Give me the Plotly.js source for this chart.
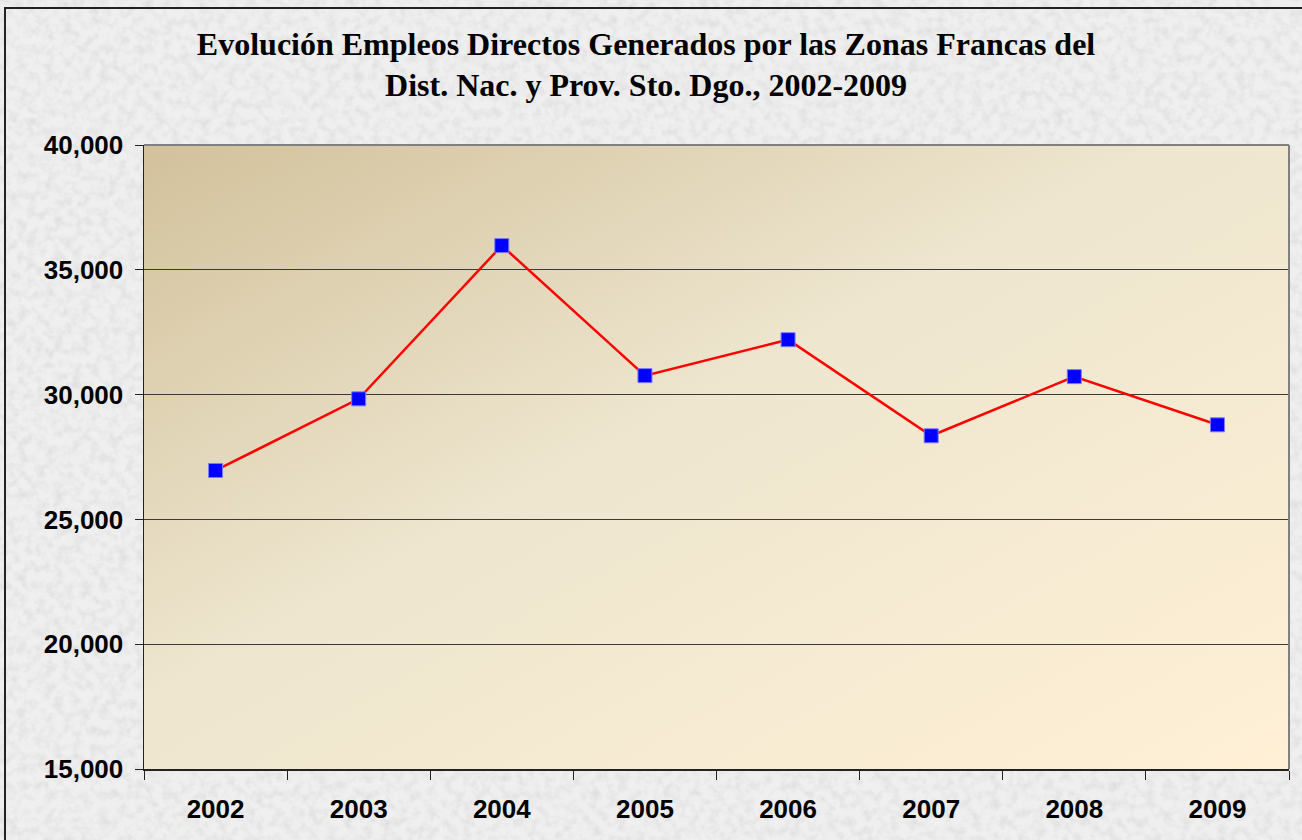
<!DOCTYPE html>
<html>
<head>
<meta charset="utf-8">
<script src="https://cdn.plot.ly/plotly-3.0.1.min.js"></script>
<style>
  html, body { margin: 0; padding: 0; width: 1302px; height: 840px; overflow: hidden; }
  body { background-color: #e9e9e9; position: relative; }
  #bg { position: absolute; left: 0; top: 0; width: 1302px; height: 840px; }
  #frame { position: absolute; left: 4px; top: 7px; width: 1400px; height: 1000px; border: 2px solid #222; box-sizing: border-box; pointer-events: none; }
  #chart { position: absolute; left: 0; top: 0; width: 1302px; height: 840px; }
</style>
</head>
<body>
<div id="bg"></div>
<div id="chart"></div>
<div id="frame"></div>
<script>
// ---- data ----
const years = ['2002', '2003', '2004', '2005', '2006', '2007', '2008', '2009'];
const empleos = [26960, 29830, 35970, 30760, 32200, 28350, 30720, 28790];
const yTickVals = [15000, 20000, 25000, 30000, 35000, 40000];
const chartTitle = 'Evolución Empleos Directos Generados por las Zonas Francas del<br>Dist. Nac. y Prov. Sto. Dgo., 2002-2009';

// stone-like background texture (deterministic SVG filter)
const tex = "<svg xmlns='http://www.w3.org/2000/svg' width='1302' height='840'>" +
  "<filter id='n' x='0' y='0' width='100%' height='100%'>" +
  "<feTurbulence type='fractalNoise' baseFrequency='0.11' numOctaves='4' seed='7'/>" +
  "<feColorMatrix type='matrix' values='0 0 0 0 0.6  0 0 0 0 0.6  0 0 0 0 0.6  0.9 0 0 0 -0.36'/>" +
  "</filter><rect width='100%' height='100%' fill='#efefef'/>" +
  "<rect width='100%' height='100%' filter='url(#n)'/></svg>";
document.getElementById('bg').style.backgroundImage = 'url("data:image/svg+xml,' + encodeURIComponent(tex) + '")';

// plot area gradient
const grad = "<svg xmlns='http://www.w3.org/2000/svg' width='100' height='100' preserveAspectRatio='none'>" +
  "<defs><linearGradient id='g' x1='0' y1='0' x2='1' y2='1'>" +
  "<stop offset='0' stop-color='#d2c19b'/>" +
  "<stop offset='0.45' stop-color='#eee6cf'/>" +
  "<stop offset='1' stop-color='#fff0d6'/>" +
  "</linearGradient></defs><rect width='100' height='100' fill='url(#g)'/></svg>";
const gradUri = 'data:image/svg+xml,' + encodeURIComponent(grad);

const trace = {
  x: years,
  y: empleos,
  type: 'scatter',
  mode: 'lines+markers',
  line: { color: '#ff0000', width: 2.5 },
  marker: { symbol: 'square', size: 14, color: '#0000ff', line: { color: '#7a7aff', width: 1 } },
  hoverinfo: 'x+y'
};

const layout = {
  width: 1302,
  height: 840,
  margin: { l: 144, r: 13, t: 145, b: 71 },
  paper_bgcolor: 'rgba(0,0,0,0)',
  plot_bgcolor: 'rgba(0,0,0,0)',
  showlegend: false,
  title: {
    text: chartTitle,
    font: { family: 'Liberation Serif, Times New Roman, serif', size: 32, color: '#000', weight: 'bold' },
    x: 0.4962, xanchor: 'center', xref: 'container',
    y: 0.935, yanchor: 'top', yref: 'container'
  },
  xaxis: {
    type: 'category',
    range: [-0.5, years.length - 0.5],
    tickson: 'boundaries',
    ticks: 'outside', ticklen: 9, tickwidth: 1, tickcolor: '#222',
    showline: true, linecolor: '#222', linewidth: 1.5,
    showgrid: false, zeroline: false,
    tickfont: { family: 'Liberation Sans, Arial, sans-serif', size: 26, color: '#000', weight: 'bold' },
    ticklabelstandoff: 16
  },
  yaxis: {
    range: [15000, 40000],
    tickvals: yTickVals,
    tickformat: ',d',
    ticks: 'outside', ticklen: 8, tickwidth: 1, tickcolor: '#222',
    showline: true, linecolor: '#222', linewidth: 1.5,
    showgrid: true, gridcolor: '#3a3a3a', gridwidth: 1,
    zeroline: false,
    tickfont: { family: 'Liberation Sans, Arial, sans-serif', size: 26, color: '#000', weight: 'bold' },
    ticklabelstandoff: 6
  },
  images: [{
    source: gradUri, xref: 'paper', yref: 'paper', x: 0, y: 1, sizex: 1, sizey: 1,
    xanchor: 'left', yanchor: 'top', sizing: 'stretch', layer: 'below'
  }],
  shapes: [
    { type: 'line', xref: 'paper', yref: 'paper', x0: 0, x1: 1, y0: 1, y1: 1, line: { color: '#808080', width: 2 } },
    { type: 'line', xref: 'paper', yref: 'paper', x0: 1, x1: 1, y0: 0, y1: 1, line: { color: '#808080', width: 2 } }
  ]
};

Plotly.newPlot('chart', [trace], layout, { displayModeBar: false, staticPlot: true });
</script>
</body>
</html>
